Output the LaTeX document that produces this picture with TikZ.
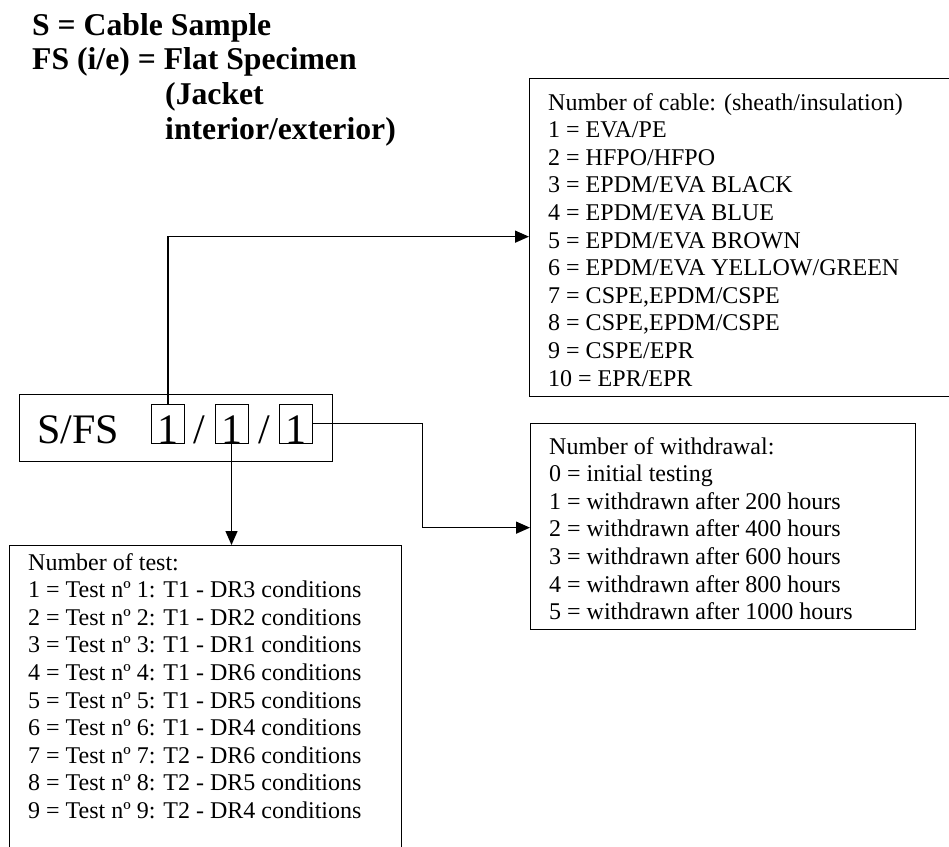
\documentclass[tikz,border=0pt]{standalone}
\usepackage{fontspec}
\setmainfont{Liberation Serif}
\usetikzlibrary{arrows.meta}
\tikzset{>={Triangle[length=14bp,width=12bp]}}
\colorlet{frame}{black}
\tikzstyle{conn}=[frame,line width=1.4bp,->]

\begin{document}
\begin{tikzpicture}[x=1bp,y=-1bp,
    box/.style={draw=frame,line width=1.3bp,inner sep=0,anchor=north west},
    digit/.style={draw=frame,line width=1bp,minimum width=33bp,inner ysep=0,
                  text height=39bp,text depth=0,anchor=base,font=\big},
    entry/.style={anchor=base west,inner sep=0,font=\fontsize{24bp}{27.6bp}\selectfont},
    title/.style={anchor=base west,inner sep=0,font=\fontsize{31.7bp}{35bp}\selectfont\bfseries},
  ]
  \def\big{\fontsize{42bp}{42bp}\selectfont}

  \def\dy{27.6}   % line spacing of the lists
  \def\base{443}  % baseline of the code
  \def\tx{19}     % text indent in the boxes

  \useasboundingbox (0,0) rectangle (949,847);

  % LEGEND
  \node[title] (leg1) at (32,35) {S = Cable Sample};
  \node[title] (leg2) at (32,69) {FS (i/e) = Flat Specimen};
  \node[title] (leg3) at (165,104) {(Jacket};
  \node[title] (leg4) at (165,139) {interior/exterior)};

  % CODE
  \node[box,minimum width=313bp,minimum height=67bp] (code) at (19,394) {};
  \node[anchor=base west,inner sep=0,font=\big] (sfs) at (37,\base) {S/FS};
  \node[digit] (n1) at (168,\base) {1};
  \node[anchor=base,inner sep=0,font=\big] (sl1) at (199,\base) {/};
  \node[digit] (n2) at (231.5,\base) {1};
  \node[anchor=base,inner sep=0,font=\big] (sl2) at (264,\base) {/};
  \node[digit] (n3) at (295.5,\base) {1};

  % BOXES
  \node[box,minimum width=422bp,minimum height=318bp] (cable) at (529,78) {};
  \node[box,minimum width=385bp,minimum height=206bp] (wd) at (530,423) {};
  \node[box,minimum width=392bp,minimum height=330bp] (test) at (9,545) {};

  \foreach \txt [count=\i from 0] in {Number of cable: (sheath/insulation),
      1 = EVA/PE, 2 = HFPO/HFPO, 3 = EPDM/EVA BLACK, 4 = EPDM/EVA BLUE,
      5 = EPDM/EVA BROWN, 6 = EPDM/EVA YELLOW/GREEN, {7 = CSPE,EPDM/CSPE},
      {8 = CSPE,EPDM/CSPE}, 9 = CSPE/EPR, 10 = EPR/EPR}
    \node[entry] (cab\i) at (529+\tx,110+\dy*\i) {\txt};

  \foreach \txt [count=\i from 0] in {Number of withdrawal:, 0 = initial testing,
      1 = withdrawn after 200 hours, 2 = withdrawn after 400 hours,
      3 = withdrawn after 600 hours, 4 = withdrawn after 800 hours,
      5 = withdrawn after 1000 hours}
    \node[entry] (wd\i) at (530+\tx,454+\dy*\i) {\txt};

  \foreach \txt [count=\i from 0] in {Number of test:,
      1 = Test nº 1: T1 - DR3 conditions, 2 = Test nº 2: T1 - DR2 conditions,
      3 = Test nº 3: T1 - DR1 conditions, 4 = Test nº 4: T1 - DR6 conditions,
      5 = Test nº 5: T1 - DR5 conditions, 6 = Test nº 6: T1 - DR4 conditions,
      7 = Test nº 7: T2 - DR6 conditions, 8 = Test nº 8: T2 - DR5 conditions,
      9 = Test nº 9: T2 - DR4 conditions}
    \node[entry] (ts\i) at (9+\tx,570+\dy*\i) {\txt};

  % CONNECTORS
  \draw[conn] (n1.north) |- ([yshift=1bp]cable.west);
  \draw[conn] (n3.east) -- ++(110,0) |- ([yshift=-1bp]wd.west);
  \draw[conn] (n2.south) -- (n2.south |- test.north);
\end{tikzpicture}
\end{document}
